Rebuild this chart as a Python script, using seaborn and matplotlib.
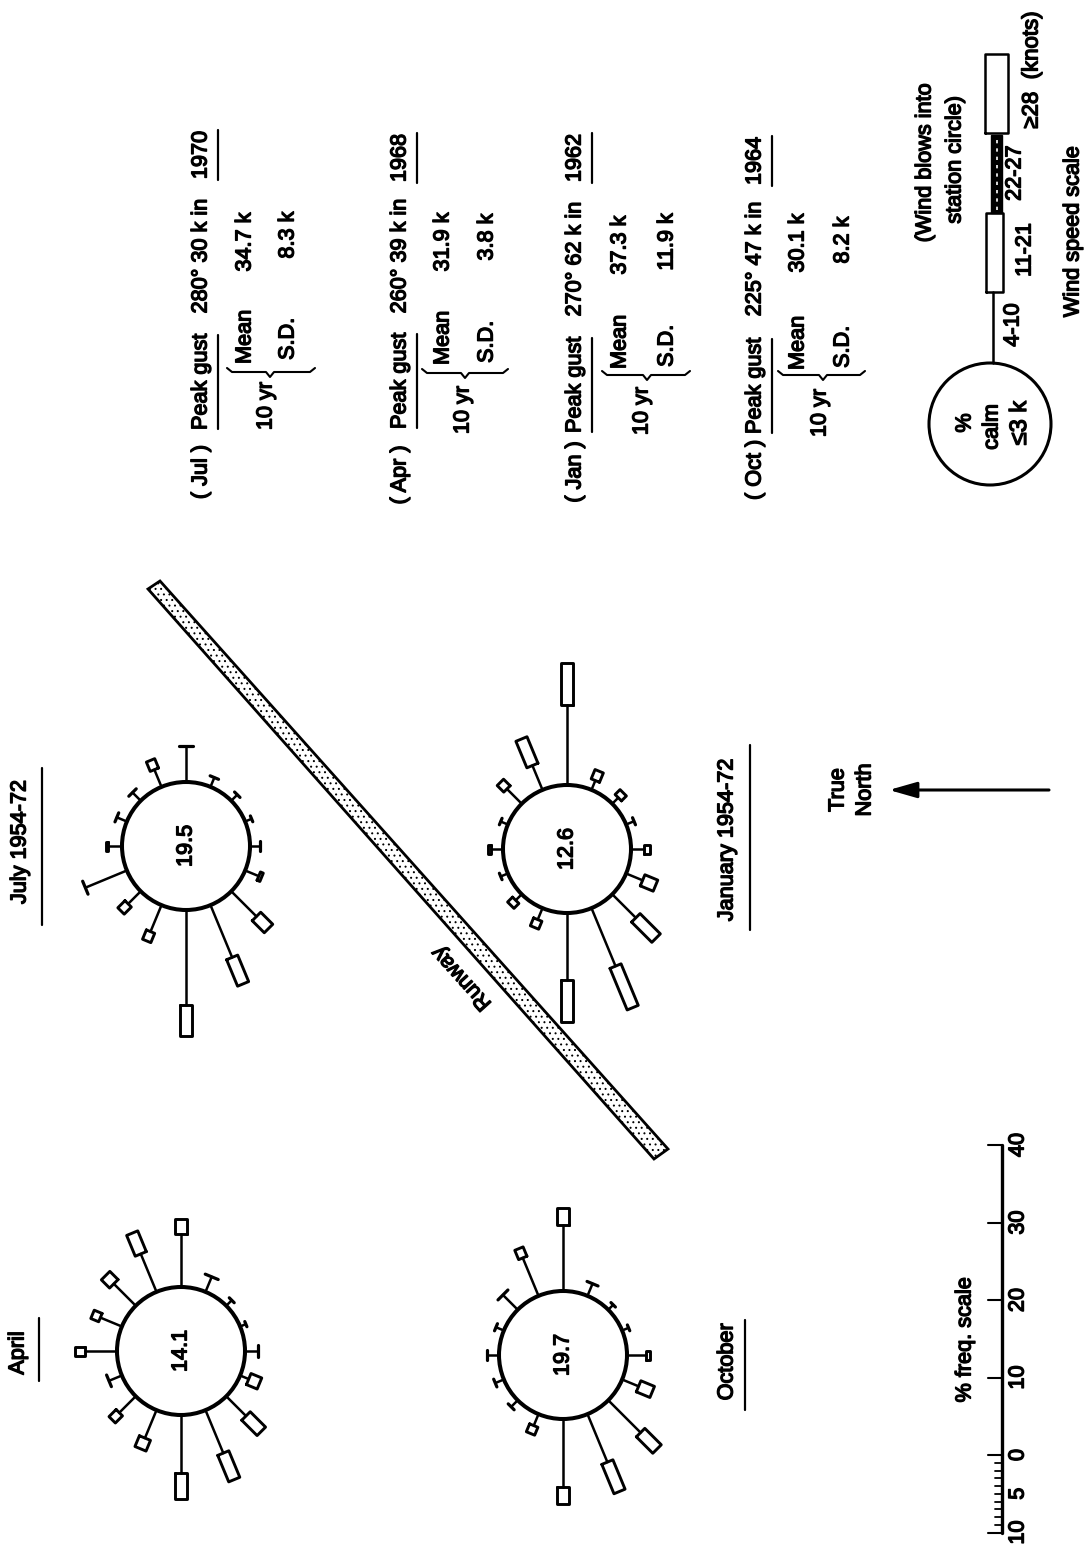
# Seasonal wind roses, page turned on its side (true north points left)
import numpy as np
import pandas as pd
import seaborn as sns
import matplotlib.pyplot as plt
import matplotlib.patheffects as pe
from matplotlib.patches import Circle, Polygon

directions = ["N", "NNE", "NE", "ENE", "E", "ESE", "SE", "SSE",
              "S", "SSW", "SW", "WSW", "W", "WNW", "NW", "NNW"]
bearings = [22.5 * i for i in range(16)]

# % frequency of 4-10 k winds (stalk) and 11-21 k winds (box), N clockwise
april_stalk = [4.1, 3.0, 4.0, 5.3, 6.9, 2.1, 1.0, 0.8, 1.7, 1.2, 3.6, 6.0, 7.5, 3.9, 3.0, 1.8]
april_box = [1.3, 1.1, 1.5, 2.9, 1.9, 0, 0, 0, 0, 1.5, 2.8, 3.7, 3.4, 1.5, 1.3, 0]
july_stalk = [1.8, 1.4, 1.5, 2.4, 4.6, 1.3, 1.1, 0.9, 1.3, 1.9, 4.6, 7.3, 12.3, 3.7, 2.3, 5.8]
july_box = [0.3, 0, 0, 1.3, 0, 0, 0, 0, 0, 0.4, 2.2, 3.7, 3.9, 1.3, 1.3, 0]
october_stalk = [1.5, 1.1, 2.7, 5.3, 8.5, 1.7, 0.9, 0.9, 2.4, 2.3, 5.9, 6.7, 8.8, 1.6, 1.2, 1.2]
october_box = [0, 0, 0, 1.3, 2.2, 0, 0, 0, 0.6, 1.9, 3.0, 4.1, 2.2, 1.1, 0, 0]
january_stalk = [1.5, 1.0, 2.7, 3.4, 10.3, 1.3, 1.1, 1.1, 1.7, 2.3, 4.3, 8.1, 8.6, 1.6, 1.1, 1.0]
january_box = [0.4, 0, 1.2, 3.7, 5.4, 1.3, 0.9, 0, 0.7, 1.8, 3.7, 5.8, 5.4, 1.1, 0.9, 0]
calm_percent = ["14.1", "19.5", "19.7", "12.6"]

scale_values = [-10, 0, 10, 20, 30, 40]
scale_labels = ["10", "0", "10", "20", "30", "40"]
minor_values = list(range(-10, 0))

months = ["( Jul )", "( Apr )", "( Jan )", "( Oct )"]
gusts = ["280° 30 k in", "260° 39 k in", "270° 62 k in", "225° 47 k in"]
gust_years = ["1970", "1968", "1962", "1964"]
means = ["34.7 k", "31.9 k", "37.3 k", "30.1 k"]
sds = ["8.3 k", "3.8 k", "11.9 k", "8.2 k"]

# layout, in picture pixels
PX_PER_PCT = 7.75
RADIUS = 64
rose_centers = [(181, 1351), (186, 846), (563, 1355), (567, 849)]
rose_stalks = [april_stalk, july_stalk, october_stalk, january_stalk]
rose_boxes = [april_box, july_box, october_box, january_box]

sns.set_theme(style="white")
plt.rcParams['font.family'] = ['Liberation Sans', 'DejaVu Sans']
plt.rcParams['hatch.linewidth'] = 0.7

fig = plt.figure(figsize=(10.85, 15.47), dpi=100)
ax = fig.add_axes([0, 0, 1, 1])


def draw(paths, lw):
    rows = []
    for n, path in enumerate(paths):
        for x, y in path:
            rows.append({'path': n, 'x': x, 'y': y})
    sns.lineplot(data=pd.DataFrame(rows), x='x', y='y', units='path', estimator=None,
                 sort=False, color='black', linewidth=lw, legend=False, ax=ax)


def label(x, y, s, size=15.6, rotation=90):
    ax.text(x, y, s, fontsize=size, rotation=rotation, ha='center', va='center',
            rotation_mode='anchor', color='black',
            path_effects=[pe.withStroke(linewidth=1.0, foreground='black')])


stalk_paths, box_paths, cap_paths = [], [], []
for (cx, cy), stalks, boxes, calm in zip(rose_centers, rose_stalks, rose_boxes, calm_percent):
    ax.add_patch(Circle((cx, cy), RADIUS, fill=False, ec='black', lw=2.9))
    label(cx, cy, calm)
    for bearing, stalk, box in zip(bearings, stalks, boxes):
        t = np.radians(bearing)
        ux, uy = -np.cos(t), -np.sin(t)
        px, py = -uy, ux
        r1 = RADIUS + stalk * PX_PER_PCT
        stalk_paths.append([(cx + ux * RADIUS, cy + uy * RADIUS), (cx + ux * r1, cy + uy * r1)])
        if box > 0:
            r2 = r1 + box * PX_PER_PCT
            w = 6 if box >= 1.5 else 4.5
            box_paths.append([(cx + ux * r1 + px * w, cy + uy * r1 + py * w),
                              (cx + ux * r2 + px * w, cy + uy * r2 + py * w),
                              (cx + ux * r2 - px * w, cy + uy * r2 - py * w),
                              (cx + ux * r1 - px * w, cy + uy * r1 - py * w),
                              (cx + ux * r1 + px * w, cy + uy * r1 + py * w)])
        else:
            # bare cap where no 11-21 k winds were logged
            w = float(np.clip(stalk * PX_PER_PCT * 0.45, 2.5, 7))
            cap_paths.append([(cx + ux * r1 + px * w, cy + uy * r1 + py * w),
                              (cx + ux * r1 - px * w, cy + uy * r1 - py * w)])
draw(stalk_paths, 1.8)
draw(box_paths, 2.1)
draw(cap_paths, 2.3)

# runway
ax.add_patch(Polygon([(148, 589), (160, 581), (668, 1149), (654, 1159)], closed=True,
                     fc='white', ec='black', lw=2.0, hatch='...'))
label(462, 978, "Runway", rotation=132)

# month titles
label(18, 1353, "April")
label(20, 842, "July 1954-72")
label(727, 1362, "October")
label(727, 840, "January 1954-72")
draw([[(39, 1318), (39, 1381)], [(42, 768), (42, 925)],
      [(745, 1320), (745, 1410)], [(750, 745), (750, 930)]], 1.6)

# north arrow
label(838, 790, "True")
label(865, 790, "North")
ax.annotate("", xy=(889, 790), xytext=(1049, 790),
            arrowprops=dict(arrowstyle='-|>,head_length=1.4,head_width=0.4', color='black', lw=2.2,
                            shrinkA=0, shrinkB=0))

# peak gust blocks
line_x = [201, 400, 575, 755]
under_x = [218, 417, 592, 772]
mean_x = [245, 443, 620, 798]
sd_x = [288, 487, 667, 843]
yr_x = [266, 463, 642, 820]
month_y = [472, 475, 472, 470]
peak_y = [382, 381, 385, 386]
gust_y = [256, 256, 259, 259]
year_y = [155, 158, 158, 161]
mean_y = [337, 338, 342, 343]
mean_val_y = [242, 242, 245, 243]
sd_y = [339, 342, 346, 347]
sd_val_y = [235, 237, 242, 240]
yr_y = [406, 410, 411, 413]
brace_y = [372, 373, 375, 375]
brace_x0 = [227, 422, 602, 778]
brace_x1 = [315, 508, 690, 865]
brace_tip = [270, 465, 647, 823]
lines, braces = [], []
for i in range(4):
    label(line_x[i], month_y[i], months[i])
    label(line_x[i], peak_y[i], "Peak gust")
    label(line_x[i], gust_y[i], gusts[i])
    label(line_x[i], year_y[i], gust_years[i])
    label(mean_x[i], mean_y[i], "Mean")
    label(mean_x[i], mean_val_y[i], means[i])
    label(sd_x[i], sd_y[i], "S.D.")
    label(sd_x[i], sd_val_y[i], sds[i])
    label(yr_x[i], yr_y[i], "10 yr")
    lines.append([(under_x[i], peak_y[i] - 47), (under_x[i], peak_y[i] + 47)])
    lines.append([(under_x[i], year_y[i] - 25), (under_x[i], year_y[i] + 25)])
    by, x0, x1, tip = brace_y[i], brace_x0[i], brace_x1[i], brace_tip[i]
    braces.append([(x0, by - 4), (x0 + 5, by), (tip - 4, by), (tip, by + 5),
                   (tip + 4, by), (x1 - 5, by), (x1, by - 4)])
draw(lines, 1.6)
draw(braces, 1.5)

# wind speed key
ax.add_patch(Circle((990, 424), 61, fill=False, ec='black', lw=2.2))
label(965, 423, "%")
label(992, 427, "calm")
label(1020, 423, "≤3 k", size=17)
ax.add_patch(Polygon([(991, 213), (1002, 213), (1002, 135), (991, 135)], closed=True, fc='black', ec='black', lw=1))
ax.plot([996.5, 996.5], [210, 140], color='white', lw=1.2, ls=(0, (2, 3)))
draw([[(993, 363), (993, 292)],
      [(986, 292), (1003, 292), (1003, 213), (986, 213), (986, 292)],
      [(985, 133), (1008, 133), (1008, 54), (985, 54), (985, 133)]], 1.8)
label(1013, 325, "4-10")
label(1025, 250, "11-21")
label(1015, 173, "22-27")
label(1032, 70, "≥28  (knots)", size=16)
label(925, 163, "(Wind blows into")
label(955, 160, "station circle)")
label(1073, 232, "Wind speed scale")

# % frequency scale
axis_x = 1002
zero_y = 1455
ticks = [[(axis_x, zero_y - v * PX_PER_PCT), (988, zero_y - v * PX_PER_PCT)] for v in scale_values]
minor = [[(axis_x, zero_y - v * PX_PER_PCT), (995, zero_y - v * PX_PER_PCT)] for v in minor_values]
draw([[(axis_x, zero_y - 40 * PX_PER_PCT), (axis_x, zero_y + 10 * PX_PER_PCT)]], 2.4)
draw(ticks, 1.5)
draw(minor, 1.3)
for v, s in zip(scale_values, scale_labels):
    label(1018, zero_y - v * PX_PER_PCT, s)
label(1018, zero_y + 5 * PX_PER_PCT, "5")
label(965, 1340, "% freq. scale")

ax.set_xlim(0, 1085)
ax.set_ylim(1547, 0)
ax.axis('off')
fig.savefig("out.png", dpi=100)
